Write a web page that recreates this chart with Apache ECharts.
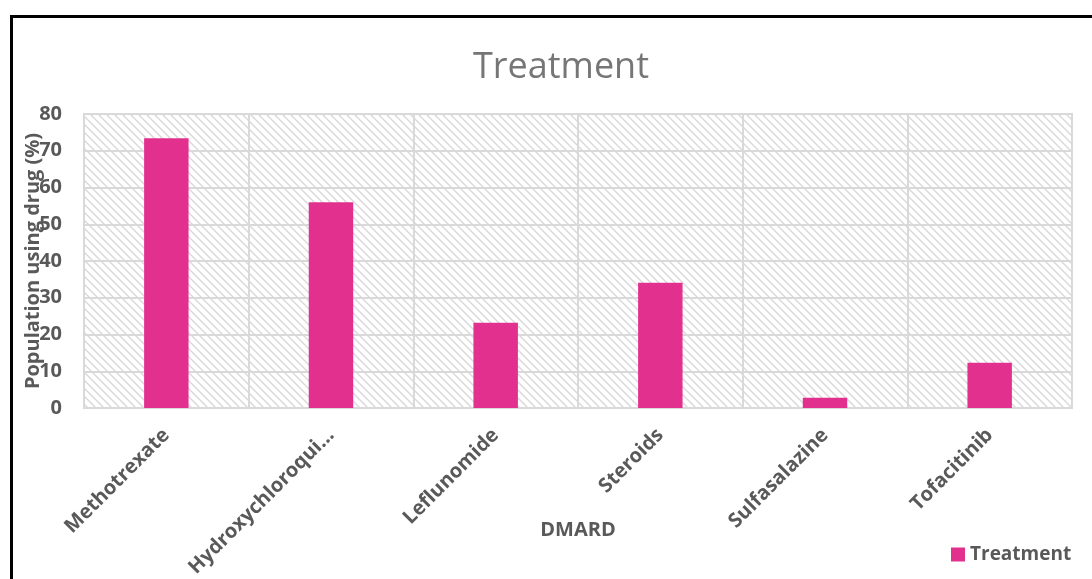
<!DOCTYPE html>
<html>
<head>
<meta charset="utf-8">
<script src="https://cdn.jsdelivr.net/npm/echarts@6/dist/echarts.min.js"></script>
<style>
  html, body { margin: 0; padding: 0; background: #fff; }
  #frame { position: absolute; left: 10px; top: 15px; width: 1200px; height: 700px;
           border-top: 3px solid #000; border-left: 3px solid #000; box-sizing: border-box; }
  #chart { position: absolute; left: 0; top: 0; width: 1092px; height: 579px; }
</style>
</head>
<body>
<div id="chart"></div>
<div id="frame"></div>
<script>
// DMARD usage among the surveyed population
const categories = ['Methotrexate', 'Hydroxychloroquine', 'Leflunomide', 'Steroids', 'Sulfasalazine', 'Tofacitinib'];
const treatmentPct = [73.4, 56.0, 23.2, 34.1, 2.8, 12.3];
const seriesName = 'Treatment';

const FONT = '"Open Sans", "Noto Sans", sans-serif';
const TEXT_GREY = '#595959';
const GRID_GREY = '#d9d9d9';

// Light downward-diagonal hatch used as plot-area fill
function hatchTile() {
  const c = document.createElement('canvas');
  c.width = 8; c.height = 8;
  const g = c.getContext('2d');
  g.fillStyle = '#ffffff';
  g.fillRect(0, 0, 8, 8);
  g.strokeStyle = '#dadada';
  g.lineWidth = 1.5;
  g.beginPath();
  g.moveTo(-2, -2); g.lineTo(10, 10);
  g.moveTo(-2, 6); g.lineTo(2, 10);
  g.moveTo(6, -2); g.lineTo(10, 2);
  g.stroke();
  return c;
}

const chart = echarts.init(document.getElementById('chart'));
chart.setOption({
  animation: false,
  textStyle: { fontFamily: FONT },
  title: {
    text: 'Treatment',
    left: 556,
    textAlign: 'center',
    top: 45,
    textStyle: { fontFamily: FONT, fontSize: 36, fontWeight: 'normal', color: '#767676' }
  },
  legend: {
    data: [seriesName],
    left: 946,
    top: 540,
    icon: 'rect',
    itemWidth: 14,
    itemHeight: 14,
    itemGap: 6,
    textStyle: { fontFamily: FONT, fontSize: 19, fontWeight: 'bold', color: TEXT_GREY }
  },
  grid: {
    left: 84, right: 20, top: 114, bottom: 171,
    containLabel: false,
    outerBoundsMode: 'none',
    show: true,
    backgroundColor: { image: hatchTile(), repeat: 'repeat' },
    borderColor: GRID_GREY,
    borderWidth: 2
  },
  xAxis: {
    type: 'category',
    data: categories,
    name: 'DMARD',
    nameLocation: 'middle',
    nameGap: 112,
    nameMoveOverlap: false,
    nameTextStyle: { fontFamily: FONT, fontSize: 20, fontWeight: 'bold', color: TEXT_GREY },
    axisLine: { show: false },
    axisTick: { show: false },
    splitLine: { show: true, interval: 0, lineStyle: { color: GRID_GREY, width: 2 } },
    axisLabel: {
      interval: 0,
      rotate: 45,
      margin: 24,
      fontFamily: FONT,
      fontSize: 20,
      fontWeight: 'bold',
      color: TEXT_GREY,
      formatter: v => v.length > 16 ? v.slice(0, 16) + '...' : v
    }
  },
  yAxis: {
    type: 'value',
    min: 0,
    max: 80,
    interval: 10,
    name: 'Population using drug (%)',
    nameLocation: 'middle',
    nameGap: 41,
    nameMoveOverlap: false,
    nameTextStyle: { fontFamily: FONT, fontSize: 20, fontWeight: 'bold', color: TEXT_GREY },
    axisLine: { show: false },
    axisTick: { show: false },
    splitLine: { show: true, lineStyle: { color: GRID_GREY, width: 2 } },
    axisLabel: {
      margin: 22,
      fontFamily: FONT,
      fontSize: 20,
      fontWeight: 'bold',
      color: TEXT_GREY
    }
  },
  series: [{
    name: seriesName,
    type: 'bar',
    data: treatmentPct,
    barWidth: '27%',
    itemStyle: { color: '#e2308f' }
  }]
});
</script>
</body>
</html>
